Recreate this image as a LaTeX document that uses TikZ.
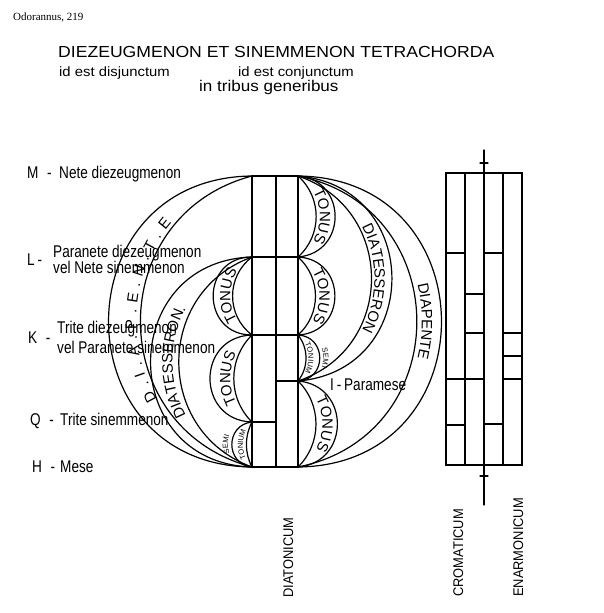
\documentclass[tikz,border=0pt]{standalone}
\usepackage{fontspec}
\setmainfont{Liberation Sans}
\newfontfamily\condfont[FakeStretch=0.8]{Liberation Sans}
\newfontfamily\narrowfont[FakeStretch=0.92]{Liberation Sans}
\newfontfamily\widefont[FakeStretch=1.1]{Liberation Sans}
\newfontfamily\serfont{Liberation Serif}
\usetikzlibrary{decorations.text}
\newcommand\bandfnt{\fontsize{15}{15}\selectfont}
\newcommand\semifnt{\fontsize{7.5}{8}\selectfont}
\tikzset{
  bow/.code={\pgfmathsetmacro\bowang{2*atan(#1)}%
    \pgfmathsetmacro\bowloose{0.8514*(1+(#1)*(#1))}%
    \edef\bowdo{\noexpand\pgfkeysalso{bend left=\bowang,looseness=\bowloose}}\bowdo}
}
\begin{document}
\begin{tikzpicture}[x=1pt,y=1pt,line cap=round,
  arcline/.style={line width=1.2pt},
  colline/.style={line width=1.7pt},
  txt/.style={anchor=base west,inner sep=0pt},
  lab/.style={txt,font=\condfont\fontsize{17}{19}\selectfont},
  bandtext/.style={decorate,decoration={text along path,text align=center,text/.expanded={|\noexpand\bandfnt|#1}}},
  semitext/.style={decorate,decoration={text along path,text align=center,text/.expanded={|\noexpand\semifnt|#1}}}]
\useasboundingbox (0,0) rectangle (603,-613);
% the notes of the two tetrachords
\foreach \n/\y in {M/176,L/257,K/335,Q/422,H/467}
  \coordinate (l\n) at (252,-\y);
\foreach \n/\y in {M/176,L/257,K/335,I/381,H/467}
  \coordinate (r\n) at (298,-\y);
\foreach \n/\y in {M/176,I/381,Q/422,H/467}
  \coordinate (m\n) at (276,-\y);
% intervals: right side top to bottom, left side bottom to top
\foreach \a/\b/\ro/\ri/\rt/\w in {rM/rL/0.92/0.45/0.54/TONUS,rL/rK/0.95/0.45/0.55/TONUS,
    rI/rH/0.92/0.42/0.57/TONUS,rM/rI/0.92/0.72/0.75/DIATESSERON,rM/rH/0.99/0.82/0.855/DIAPENTE,
    lK/lL/1.0/0.5/0.56/TONUS,lQ/lK/0.97/0.42/0.5/TONUS,lH/lL/0.97/0.7/0.76/DIATESSERON.}
{
  \draw[arcline] (\a) to[bow=\ro] (\b) (\a) to[bow=\ri] (\b);
  \path[bandtext=\w] (\a) to[bow=\rt] (\b);
}
\draw[arcline] (lH) to[bow=0.99] (lM) (lH) to[bow=0.77] (lM);
\path[decorate,decoration={text along path,text align={fit to path,left indent=120pt,right indent=95pt},
  text={|\bandfnt|D.I.A.P.E.N.T.E}}] (lH) to[bow=0.8] (lM);
% semitones
\draw[arcline] (rK) to[bow=0.95] (rI) (rK) to[bow=0.35] (rI);
\path[semitext=SEMI] (rK) to[bow=1.1] (rI);
\path[semitext=TONIUM] (rK) to[bow=0.45] (rI);
\draw[arcline] (lH) to[bow=0.9] (lQ) (lH) to[bow=0.25] (lQ);
\path[semitext=SEMI] (lH) to[bow=1.07] (lQ);
\path[semitext=TONIUM] (lH) to[bow=0.4] (lQ);
% diatonic column
\draw[colline] (lM) rectangle (rH);
\draw[colline] (mM) -- (mH) (lL) -- (rL) (lK) -- (rK) (lQ) -- (mQ) (mI) -- (rI);
% chromatic and enharmonic columns
\draw[colline] (446,-173) rectangle (522,-465);
\foreach \x in {465,484,503}
  \draw[colline] (\x,-173) -- (\x,-465);
\foreach \x/\y in {446/253,446/379,446/425,465/294,465/333,465/379,484/253,484/424,503/333,503/356,503/379}
  \draw[colline] (\x,-\y) -- ++(19,0);
\draw[line width=1.2pt] (484,-150) -- (484,-505);
\foreach \y in {163,476}
  \draw[line width=1.2pt] (480,-\y) -- (488,-\y);
% texts
\node[txt,font=\serfont\fontsize{11}{13}\selectfont] (src) at (13,-20) {Odorannus, 219};
\node[txt,font=\widefont\fontsize{16}{18}\selectfont] (title) at (58,-57) {DIEZEUGMENON ET SINEMMENON TETRACHORDA};
\node[txt,font=\widefont\fontsize{13.5}{16}\selectfont] (disj) at (59,-76) {id est disjunctum};
\node[txt,font=\widefont\fontsize{13.5}{16}\selectfont] (conj) at (238,-76) {id est conjunctum};
\node[txt,font=\widefont\fontsize{15.5}{18}\selectfont] (gen) at (199,-91) {in tribus generibus};
\node[lab] (keyM) at (27,-178) {M\enspace-};
\node[lab] (nameM) at (59,-178) {Nete diezeugmenon};
\node[lab] (keyL) at (27,-265) {L\,-};
\node[lab] (nameL) at (53,-257) {Paranete diezeugmenon};
\node[lab] (altL) at (53,-273) {vel Nete sinemmenon};
\node[lab] (keyK) at (28,-343) {K\enspace-};
\node[lab] (nameK) at (57,-333) {Trite diezeugmenon};
\node[lab] (altK) at (57,-353) {vel Paranete sinemmenon};
\node[lab] (keyQ) at (30,-425) {Q\enspace-};
\node[lab] (nameQ) at (60,-425) {Trite sinemmenon};
\node[lab] (keyH) at (32,-472) {H\enspace-};
\node[lab] (nameH) at (60,-472) {Mese};
\node[lab] (keyI) at (330,-390) {I\,-\,Paramese};
\node[txt,rotate=90,font=\narrowfont\fontsize{14}{16}\selectfont] (diat) at (293,-598) {DIATONICUM};
\node[txt,rotate=90,font=\narrowfont\fontsize{14}{16}\selectfont] (crom) at (463,-597) {CROMATICUM};
\node[txt,rotate=90,font=\narrowfont\fontsize{14}{16}\selectfont] (enar) at (523,-597) {ENARMONICUM};
\end{tikzpicture}
\end{document}
